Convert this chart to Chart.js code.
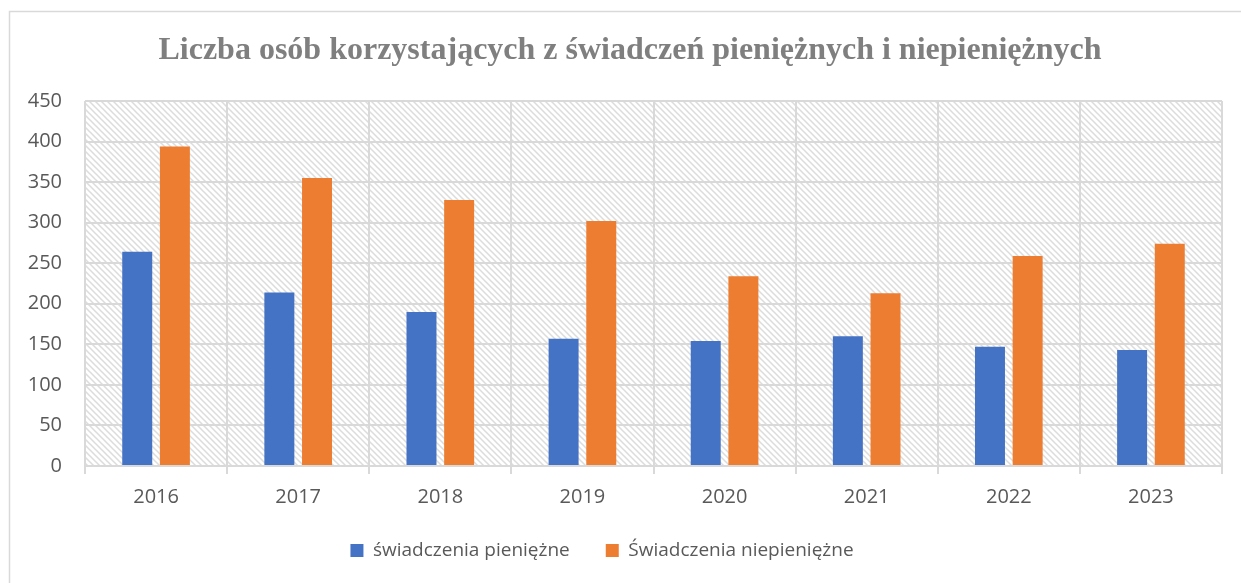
<!DOCTYPE html>
<html>
<head>
<meta charset="utf-8">
<script src="https://cdn.jsdelivr.net/npm/chart.js@4.4.0/dist/chart.umd.min.js"></script>
<style>
  html, body { margin: 0; padding: 0; background: #ffffff; }
  #wrap { position: relative; width: 1241px; height: 583px; }
  canvas { display: block; }
</style>
</head>
<body>
<div id="wrap"><canvas id="c" width="1241" height="583"></canvas></div>
<script>
const chartTitle = 'Liczba osób korzystających z świadczeń pieniężnych i niepieniężnych';
const years = ['2016', '2017', '2018', '2019', '2020', '2021', '2022', '2023'];
const seriesNames = ['świadczenia pieniężne', 'Świadczenia niepieniężne'];
const pieniezne = [264, 214, 190, 157, 154, 160, 147, 143];
const niepieniezne = [394, 355, 328, 302, 234, 213, 259, 274];
const yTicks = [0, 50, 100, 150, 200, 250, 300, 350, 400, 450];

const GRID = '#d9d9d9';
const TEXT = '#595959';

function makeHatch() {
  const t = 6;
  const c = document.createElement('canvas');
  c.width = t; c.height = t;
  const g = c.getContext('2d');
  g.fillStyle = '#ffffff';
  g.fillRect(0, 0, t, t);
  g.strokeStyle = '#dcdcdc';
  g.lineWidth = 1.5;
  g.beginPath();
  g.moveTo(-1, -1); g.lineTo(t + 1, t + 1);
  g.moveTo(-1 - t, -1); g.lineTo(1, t + 1);
  g.moveTo(t - 1, -1); g.lineTo(2 * t + 1, t + 1);
  g.stroke();
  return c;
}

const backgroundPlugin = {
  id: 'bgHatch',
  beforeDraw(chart) {
    const ctx = chart.ctx;
    const a = chart.chartArea;
    ctx.save();
    ctx.fillStyle = '#ffffff';
    ctx.fillRect(0, 0, chart.width, chart.height);
    ctx.strokeStyle = GRID;
    ctx.lineWidth = 1.5;
    ctx.beginPath();
    ctx.moveTo(9.5, chart.height);
    ctx.lineTo(9.5, 11.5);
    ctx.lineTo(chart.width, 11.5);
    ctx.stroke();
    ctx.fillStyle = ctx.createPattern(makeHatch(), 'repeat');
    ctx.fillRect(a.left, a.top, a.right - a.left, a.bottom - a.top);
    ctx.restore();
  }
};

const shiftPlugin = {
  id: 'shiftBoxes',
  afterLayout(chart) {
    if (chart.titleBlock) { chart.titleBlock.left += 14; chart.titleBlock.right += 14; }
    if (chart.legend) { chart.legend.left -= 14; chart.legend.right -= 14; }
  }
};

new Chart(document.getElementById('c'), {
  type: 'bar',
  data: {
    labels: years,
    datasets: [
      { label: seriesNames[0], data: pieniezne, backgroundColor: '#4472C4', borderWidth: 0,
        categoryPercentage: 0.53, barPercentage: 0.796 },
      { label: seriesNames[1], data: niepieniezne, backgroundColor: '#ED7D31', borderWidth: 0,
        categoryPercentage: 0.53, barPercentage: 0.796 }
    ]
  },
  options: {
    responsive: false,
    animation: false,
    devicePixelRatio: 1,
    layout: { padding: { left: 10, right: 19, top: 0, bottom: 13 } },
    plugins: {
      title: {
        display: true,
        text: chartTitle,
        color: '#7f7f7f',
        font: { family: '"Liberation Serif", "Times New Roman", serif', size: 32, weight: 'bold', lineHeight: 1.2 },
        padding: { top: 32, bottom: 30.6 }
      },
      legend: {
        display: true,
        position: 'bottom',
        labels: {
          color: TEXT,
          font: { family: '"Open Sans", sans-serif', size: 19 },
          boxWidth: 13,
          boxHeight: 13,
          padding: 36
        }
      },
      tooltip: { enabled: false }
    },
    scales: {
      x: {
        grid: { offset: true, color: GRID, lineWidth: 2, drawTicks: true, tickLength: 8 },
        border: { display: true, color: GRID, width: 2 },
        ticks: { color: TEXT, font: { family: '"Open Sans", sans-serif', size: 20 }, padding: 11, maxRotation: 0 },
        afterFit(scale) { scale.height = 39; }
      },
      y: {
        min: 0,
        max: 450,
        afterBuildTicks(scale) { scale.ticks = yTicks.map(v => ({ value: v })); },
        grid: { color: GRID, lineWidth: 2, drawTicks: false },
        border: { display: false },
        ticks: { color: TEXT, font: { family: '"Open Sans", sans-serif', size: 20 }, padding: 23 },
        afterFit(scale) { scale.width = 75; }
      }
    }
  },
  plugins: [backgroundPlugin, shiftPlugin]
});
</script>
</body>
</html>
